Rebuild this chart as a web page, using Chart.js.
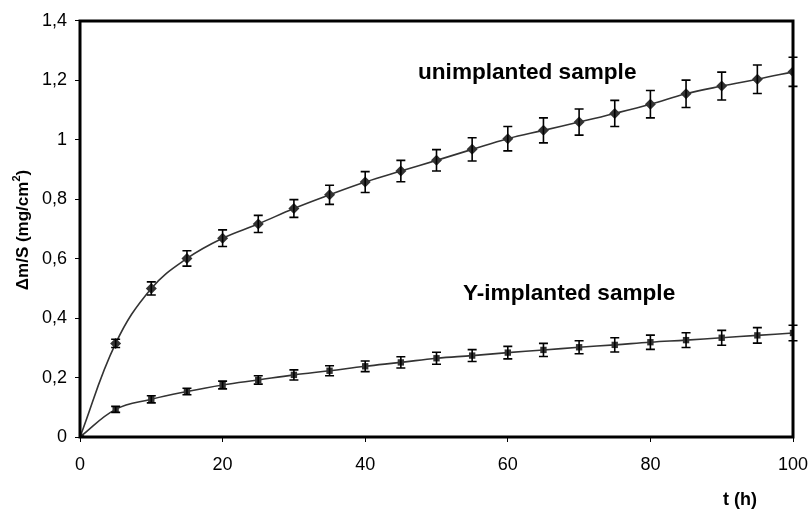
<!DOCTYPE html>
<html>
<head>
<meta charset="utf-8">
<script src="https://cdn.jsdelivr.net/npm/chart.js@4.4.0/dist/chart.umd.min.js"></script>
<style>
  html, body { margin: 0; padding: 0; background: #fff; }
  #wrap { width: 809px; height: 509px; }
</style>
</head>
<body>
<div id="wrap"><canvas id="massChart" width="809" height="509"></canvas></div>
<script>
// time points (h)
const times = [0, 5, 10, 15, 20, 25, 30, 35, 40, 45, 50, 55, 60, 65, 70, 75, 80, 85, 90, 95, 100];

// mass gain per surface (mg/cm2)
const unimplanted = [0, 0.315, 0.50, 0.601, 0.669, 0.717, 0.769, 0.815, 0.858, 0.895, 0.931, 0.968, 1.004, 1.032, 1.060, 1.089, 1.120, 1.155, 1.181, 1.204, 1.229];
const unimplantedErr = [0, 0.014, 0.022, 0.026, 0.028, 0.029, 0.030, 0.032, 0.035, 0.036, 0.036, 0.039, 0.041, 0.042, 0.044, 0.044, 0.046, 0.046, 0.047, 0.048, 0.049];

const yImplanted = [0, 0.093, 0.127, 0.153, 0.175, 0.192, 0.209, 0.223, 0.238, 0.251, 0.265, 0.274, 0.284, 0.293, 0.302, 0.310, 0.319, 0.326, 0.334, 0.342, 0.350];
const yImplantedErr = [0, 0.010, 0.012, 0.011, 0.013, 0.014, 0.017, 0.017, 0.018, 0.019, 0.020, 0.020, 0.021, 0.022, 0.022, 0.024, 0.024, 0.025, 0.025, 0.026, 0.026];

const xTickLabels = ['0', '20', '40', '60', '80', '100'];
const yTickLabels = ['0', '0,2', '0,4', '0,6', '0,8', '1', '1,2', '1,4'];

const FONT = 'Liberation Sans, Arial, Helvetica, sans-serif';

function toPoints(vals) {
    return times.map((t, i) => ({ x: t, y: vals[i] }));
}

// error bars, frame and text labels
const extrasPlugin = {
    id: 'extras',
    afterDatasetsDraw(chart) {
        const ctx = chart.ctx;
        const xs = chart.scales.x, ys = chart.scales.y;
        const sets = [[unimplanted, unimplantedErr], [yImplanted, yImplantedErr]];
        ctx.save();
        ctx.strokeStyle = '#000';
        ctx.lineWidth = 1.6;
        sets.forEach(([vals, errs]) => {
            vals.forEach((v, i) => {
                if (!errs[i]) return;
                const px = xs.getPixelForValue(times[i]);
                const top = ys.getPixelForValue(v + errs[i]);
                const bot = ys.getPixelForValue(v - errs[i]);
                ctx.beginPath();
                ctx.moveTo(px, top); ctx.lineTo(px, bot);
                ctx.moveTo(px - 4.5, top); ctx.lineTo(px + 4.5, top);
                ctx.moveTo(px - 4.5, bot); ctx.lineTo(px + 4.5, bot);
                ctx.stroke();
            });
        });
        ctx.restore();
    },
    afterDraw(chart) {
        const ctx = chart.ctx;
        const a = chart.chartArea;
        ctx.save();
        ctx.strokeStyle = '#000';
        ctx.lineWidth = 3;
        ctx.strokeRect(a.left, a.top, a.right - a.left, a.bottom - a.top);

        ctx.fillStyle = '#000';
        ctx.textBaseline = 'middle';
        ctx.textAlign = 'left';
        ctx.font = 'bold 22.6px ' + FONT;
        ctx.fillText('unimplanted sample', 418, 73);
        ctx.fillText('Y-implanted sample', 463, 294);

        ctx.font = 'bold 18px ' + FONT;
        ctx.textAlign = 'center';
        ctx.fillText('t (h)', 740, 500);

        // rotated y axis title with a raised 2
        ctx.translate(23, 230);
        ctx.rotate(-Math.PI / 2);
        ctx.textAlign = 'left';
        const main = 'Δm/S (mg/cm';
        ctx.font = 'bold 17px ' + FONT;
        const w1 = ctx.measureText(main).width;
        const w3 = ctx.measureText(')').width;
        ctx.font = 'bold 11px ' + FONT;
        const w2 = ctx.measureText('2').width;
        let x0 = -(w1 + w2 + w3) / 2;
        ctx.font = 'bold 17px ' + FONT;
        ctx.fillText(main, x0, 0);
        ctx.font = 'bold 11px ' + FONT;
        ctx.fillText('2', x0 + w1, -6);
        ctx.font = 'bold 17px ' + FONT;
        ctx.fillText(')', x0 + w1 + w2, 0);
        ctx.restore();
    }
};

const ctx = document.getElementById('massChart').getContext('2d');
const massChart = new Chart(ctx, {
    type: 'line',
    data: {
        datasets: [{
            label: 'unimplanted sample',
            data: toPoints(unimplanted),
            borderColor: '#333',
            backgroundColor: '#333',
            borderWidth: 1.6,
            tension: 0.4,
            pointStyle: 'rectRot',
            pointRadius: 5.5,
            pointBorderWidth: 0
        }, {
            label: 'Y-implanted sample',
            data: toPoints(yImplanted),
            borderColor: '#333',
            backgroundColor: '#333',
            borderWidth: 1.6,
            tension: 0.4,
            pointStyle: 'rect',
            pointRadius: 4.5,
            pointBorderWidth: 0
        }]
    },
    options: {
        responsive: false,
        animation: false,
        events: [],
        layout: { padding: { left: 0, right: 16, top: 21, bottom: 0 } },
        plugins: {
            legend: { display: false },
            tooltip: { enabled: false }
        },
        scales: {
            x: {
                type: 'linear',
                min: 0,
                max: 100,
                afterFit: (scale) => {
                    scale.height = 72;
                    scale.paddingLeft = 0;
                    scale.paddingRight = 0;
                },
                afterBuildTicks: (scale) => {
                    scale.ticks = xTickLabels.map(l => ({ value: Number(l) }));
                },
                ticks: {
                    color: '#000',
                    font: { family: FONT, size: 18 },
                    padding: 12,
                    maxRotation: 0,
                    callback: (v, i) => xTickLabels[i]
                },
                grid: { display: true, drawOnChartArea: false, tickLength: 5, color: '#000', lineWidth: 1 },
                border: { display: false }
            },
            y: {
                min: 0,
                max: 1.4,
                afterFit: (scale) => {
                    scale.width = 80;
                    scale.paddingTop = 0;
                    scale.paddingBottom = 0;
                },
                afterBuildTicks: (scale) => {
                    scale.ticks = yTickLabels.map((l, i) => ({ value: i * 0.2 }));
                },
                ticks: {
                    color: '#000',
                    font: { family: FONT, size: 18 },
                    padding: 8,
                    callback: (v, i) => yTickLabels[i]
                },
                grid: { display: true, drawOnChartArea: false, tickLength: 5, color: '#000', lineWidth: 1 },
                border: { display: false }
            }
        }
    },
    plugins: [extrasPlugin]
});
</script>
</body>
</html>
